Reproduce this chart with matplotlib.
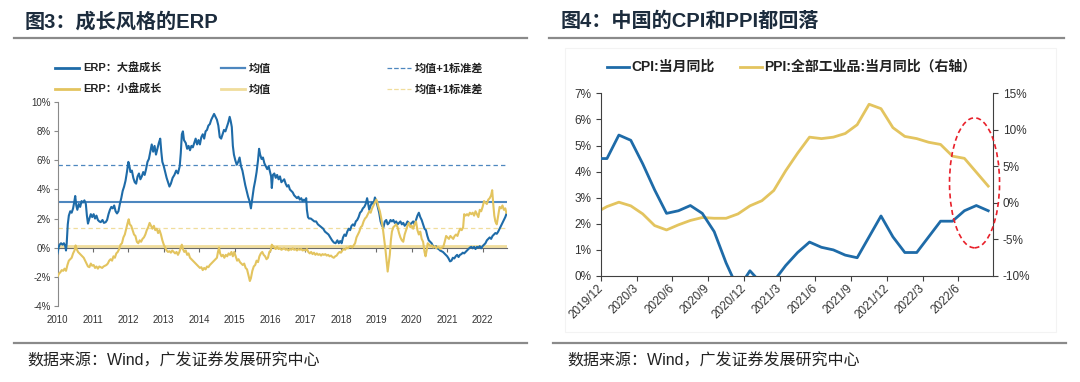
import matplotlib
matplotlib.use('Agg')
import matplotlib.pyplot as plt
from matplotlib.lines import Line2D
from matplotlib.patches import Ellipse, Rectangle
from matplotlib.ticker import FuncFormatter

plt.rcParams['font.family'] = ['Liberation Sans', 'Noto Sans CJK SC']

# ---------------- data: chart 3 (ERP) ----------------
erp_large_t = [2010.00, 2010.03, 2010.06, 2010.10, 2010.14, 2010.18, 2010.22, 2010.24, 2010.26, 2010.29, 2010.32, 2010.36, 2010.40, 2010.44, 2010.47, 2010.50, 2010.53, 2010.56, 2010.60, 2010.64, 2010.68, 2010.72, 2010.76, 2010.80, 2010.83, 2010.86, 2010.90, 2010.94, 2010.98,
               2011.02, 2011.06, 2011.10, 2011.14, 2011.18, 2011.22, 2011.27, 2011.31, 2011.36, 2011.40, 2011.44, 2011.48, 2011.52, 2011.56, 2011.60, 2011.64, 2011.68, 2011.72, 2011.76, 2011.80, 2011.84, 2011.88, 2011.92, 2011.96,
               2012.00, 2012.03, 2012.06, 2012.10, 2012.14, 2012.18, 2012.22, 2012.26, 2012.30, 2012.34, 2012.38, 2012.42, 2012.46, 2012.50, 2012.54, 2012.58, 2012.62, 2012.66, 2012.70, 2012.74, 2012.78, 2012.82, 2012.86, 2012.90, 2012.93, 2012.96,
               2013.00, 2013.04, 2013.08, 2013.12, 2013.16, 2013.20, 2013.25, 2013.30, 2013.35, 2013.40, 2013.45, 2013.48, 2013.51, 2013.54, 2013.57, 2013.62, 2013.66, 2013.70, 2013.74, 2013.78, 2013.82, 2013.86, 2013.90, 2013.94, 2013.98,
               2014.02, 2014.06, 2014.10, 2014.14, 2014.18, 2014.22, 2014.26, 2014.30, 2014.34, 2014.38, 2014.42, 2014.46, 2014.50, 2014.54, 2014.58, 2014.62, 2014.66, 2014.70, 2014.74, 2014.78, 2014.82, 2014.86, 2014.89, 2014.92, 2014.95, 2014.98,
               2015.02, 2015.06, 2015.10, 2015.14, 2015.18, 2015.22, 2015.26, 2015.30, 2015.34, 2015.38, 2015.42, 2015.46, 2015.50, 2015.54, 2015.58, 2015.62, 2015.66, 2015.69, 2015.72, 2015.76, 2015.80, 2015.84, 2015.88, 2015.92, 2015.96,
               2016.00, 2016.03, 2016.05, 2016.08, 2016.12, 2016.16, 2016.20, 2016.24, 2016.28, 2016.32, 2016.36, 2016.40, 2016.44, 2016.48, 2016.52, 2016.56, 2016.60, 2016.64, 2016.68, 2016.72, 2016.76, 2016.80, 2016.84, 2016.88, 2016.92, 2016.96,
               2017.00, 2017.02, 2017.04, 2017.07, 2017.10, 2017.15, 2017.20, 2017.25, 2017.30, 2017.35, 2017.40, 2017.45, 2017.50, 2017.55, 2017.60, 2017.65, 2017.70, 2017.75, 2017.80, 2017.85, 2017.90, 2017.94, 2017.98,
               2018.02, 2018.06, 2018.10, 2018.14, 2018.18, 2018.22, 2018.26, 2018.30, 2018.34, 2018.38, 2018.42, 2018.46, 2018.50, 2018.54, 2018.58, 2018.62, 2018.66, 2018.70, 2018.74, 2018.77, 2018.80, 2018.84, 2018.88, 2018.92, 2018.96,
               2019.00, 2019.04, 2019.08, 2019.12, 2019.16, 2019.20, 2019.24, 2019.28, 2019.32, 2019.36, 2019.40, 2019.44, 2019.48, 2019.52, 2019.56, 2019.60, 2019.64, 2019.68, 2019.72, 2019.76, 2019.80, 2019.84, 2019.88, 2019.92, 2019.96,
               2020.00, 2020.04, 2020.08, 2020.12, 2020.16, 2020.20, 2020.24, 2020.28, 2020.32, 2020.36, 2020.40, 2020.44, 2020.48, 2020.52, 2020.56, 2020.60, 2020.64, 2020.68, 2020.72, 2020.76, 2020.80, 2020.84, 2020.88, 2020.92, 2020.96,
               2021.00, 2021.04, 2021.08, 2021.12, 2021.16, 2021.20, 2021.24, 2021.28, 2021.32, 2021.36, 2021.40, 2021.44, 2021.48, 2021.52, 2021.56, 2021.60, 2021.64, 2021.68, 2021.72, 2021.76, 2021.80, 2021.84, 2021.88, 2021.92, 2021.96,
               2022.00, 2022.04, 2022.08, 2022.12, 2022.16, 2022.20, 2022.24, 2022.28, 2022.32, 2022.36, 2022.40, 2022.44, 2022.48, 2022.52, 2022.56, 2022.60, 2022.64, 2022.67]
erp_large = [-0.4, 0.0, 0.2, 0.3, 0.2, 0.3, 0.1, -0.2, 0.3, 1.6, 2.2, 2.5, 2.4, 2.7, 3.1, 3.55, 2.9, 2.6, 3.0, 2.8, 3.2, 3.1, 3.25, 3.0, 2.2, 1.65, 2.0, 2.3, 2.1,
             2.3, 2.0, 2.2, 1.9, 1.8, 1.75, 1.9, 1.7, 1.75, 1.9, 2.3, 2.6, 2.8, 2.7, 2.9, 2.5, 2.35, 2.5, 3.0, 3.4, 3.9, 4.2, 4.6, 5.2,
             5.9, 5.6, 5.2, 5.3, 4.8, 4.5, 4.4, 4.9, 5.1, 4.7, 4.9, 5.2, 5.0, 5.4, 5.9, 6.1, 6.6, 7.1, 6.6, 7.0, 6.4, 6.8, 7.2, 7.5, 6.6, 5.9,
             5.6, 5.2, 4.8, 4.5, 4.2, 4.4, 4.8, 5.0, 5.3, 5.1, 5.6, 6.5, 7.8, 8.0, 7.4, 7.2, 6.8, 7.0, 6.7, 7.0, 6.9, 7.2, 7.5, 7.1, 7.4,
             7.1, 7.6, 7.8, 7.5, 8.0, 8.1, 8.4, 8.5, 8.8, 9.0, 9.2, 9.0, 8.8, 8.4, 7.6, 7.5, 7.8, 8.1, 8.0, 8.3, 8.6, 9.0, 8.7, 8.3, 7.0, 6.4,
             6.0, 5.7, 5.9, 6.2, 5.6, 5.3, 4.8, 4.3, 3.9, 3.5, 3.2, 2.7, 3.4, 4.1, 4.6, 5.2, 6.0, 6.8, 6.4, 6.1, 6.2, 5.8, 5.6, 5.4, 5.6,
             5.2, 4.9, 4.1, 5.0, 5.1, 4.8, 5.0, 4.7, 4.9, 4.5, 4.6, 4.7, 4.4, 4.2, 4.3, 4.0, 3.9, 3.8, 3.6, 3.5, 3.4, 3.5, 3.3, 3.4, 3.2, 3.3,
             3.2, 3.4, 2.6, 2.1, 2.0, 2.0, 1.9, 1.8, 1.8, 1.6, 1.5, 1.4, 1.3, 1.1, 1.0, 0.9, 0.7, 0.5, 0.35, 0.3, 0.5, 0.3, 0.45,
             0.3, 0.7, 0.9, 0.8, 1.1, 1.3, 1.2, 1.5, 1.6, 1.5, 1.8, 1.9, 2.1, 2.4, 2.5, 2.7, 2.8, 3.0, 3.4, 3.0, 2.6, 2.9, 3.1, 3.0, 3.45,
             3.2, 2.8, 2.4, 1.8, 1.5, 1.4, 1.8, 1.9, 1.6, 1.7, 1.9, 1.8, 1.9, 1.7, 1.8, 1.6, 1.7, 1.8, 1.6, 1.7, 1.5, 1.6, 1.8, 1.7, 1.6,
             1.7, 1.8, 1.6, 1.9, 2.2, 2.4, 2.1, 1.9, 1.6, 1.3, 1.2, 0.8, 0.5, 0.4, 0.3, 0.1, 0.0, 0.1, -0.05, -0.1, -0.2, -0.25, -0.3, -0.4, -0.5,
             -0.6, -0.75, -0.95, -0.9, -0.7, -0.75, -0.6, -0.5, -0.65, -0.5, -0.45, -0.35, -0.4, -0.3, -0.2, -0.1, 0.0, 0.05, -0.05, 0.05, -0.1, 0.05, 0.0, 0.1, -0.05,
             0.1, 0.2, 0.3, 0.5, 0.6, 0.7, 0.6, 0.8, 0.9, 1.0, 0.95, 1.1, 1.3, 1.5, 1.7, 1.9, 2.1, 2.3]

erp_small_t = [2010.00, 2010.04, 2010.08, 2010.12, 2010.16, 2010.20, 2010.24, 2010.28, 2010.32, 2010.36, 2010.40, 2010.44, 2010.48, 2010.51, 2010.54, 2010.58, 2010.62, 2010.66, 2010.70, 2010.74, 2010.78, 2010.82, 2010.86, 2010.90, 2010.94, 2010.98,
               2011.02, 2011.06, 2011.10, 2011.14, 2011.18, 2011.22, 2011.26, 2011.30, 2011.34, 2011.38, 2011.42, 2011.46, 2011.50, 2011.54, 2011.58, 2011.62, 2011.66, 2011.70, 2011.74, 2011.78, 2011.82, 2011.86, 2011.90, 2011.94, 2011.98,
               2012.01, 2012.04, 2012.08, 2012.12, 2012.16, 2012.20, 2012.24, 2012.28, 2012.32, 2012.36, 2012.40, 2012.44, 2012.48, 2012.52, 2012.56, 2012.60, 2012.64, 2012.68, 2012.72, 2012.76, 2012.80, 2012.84, 2012.88, 2012.92, 2012.96,
               2013.00, 2013.04, 2013.08, 2013.12, 2013.16, 2013.20, 2013.24, 2013.28, 2013.32, 2013.36, 2013.40, 2013.44, 2013.48, 2013.51, 2013.54, 2013.58, 2013.62, 2013.66, 2013.70, 2013.74, 2013.78, 2013.82, 2013.86, 2013.90, 2013.94, 2013.98,
               2014.02, 2014.06, 2014.10, 2014.14, 2014.18, 2014.22, 2014.26, 2014.30, 2014.34, 2014.38, 2014.42, 2014.46, 2014.50, 2014.53, 2014.56, 2014.59, 2014.63, 2014.67, 2014.71, 2014.75, 2014.79, 2014.83, 2014.87, 2014.91, 2014.95, 2014.99,
               2015.03, 2015.07, 2015.11, 2015.15, 2015.19, 2015.23, 2015.27, 2015.31, 2015.35, 2015.39, 2015.43, 2015.46, 2015.50, 2015.54, 2015.58, 2015.62, 2015.66, 2015.70, 2015.74, 2015.78, 2015.82, 2015.86, 2015.90, 2015.94, 2015.98,
               2016.02, 2016.05, 2016.08, 2016.12, 2016.16, 2016.20, 2016.24, 2016.28, 2016.32, 2016.36, 2016.40, 2016.44, 2016.48, 2016.52, 2016.56, 2016.60, 2016.64, 2016.68, 2016.72, 2016.76, 2016.80, 2016.84, 2016.88, 2016.92, 2016.96,
               2017.00, 2017.04, 2017.08, 2017.12, 2017.16, 2017.20, 2017.24, 2017.28, 2017.32, 2017.36, 2017.40, 2017.44, 2017.48, 2017.52, 2017.56, 2017.60, 2017.64, 2017.68, 2017.72, 2017.76, 2017.80, 2017.84, 2017.88, 2017.92, 2017.96,
               2018.00, 2018.04, 2018.08, 2018.12, 2018.16, 2018.20, 2018.24, 2018.28, 2018.32, 2018.36, 2018.40, 2018.44, 2018.48, 2018.52, 2018.56, 2018.60, 2018.64, 2018.68, 2018.72, 2018.76, 2018.80, 2018.84, 2018.88, 2018.92, 2018.96,
               2019.00, 2019.03, 2019.06, 2019.10, 2019.14, 2019.18, 2019.22, 2019.26, 2019.29, 2019.32, 2019.35, 2019.38, 2019.41, 2019.44, 2019.48, 2019.52, 2019.56, 2019.60, 2019.64, 2019.68, 2019.72, 2019.76, 2019.80, 2019.84, 2019.88, 2019.92, 2019.96,
               2020.00, 2020.04, 2020.08, 2020.12, 2020.16, 2020.20, 2020.24, 2020.28, 2020.32, 2020.36, 2020.39, 2020.42, 2020.45, 2020.49, 2020.53, 2020.57, 2020.61, 2020.65, 2020.69, 2020.73, 2020.77, 2020.81, 2020.85, 2020.89, 2020.93, 2020.97,
               2021.01, 2021.05, 2021.09, 2021.13, 2021.17, 2021.21, 2021.25, 2021.29, 2021.33, 2021.37, 2021.41, 2021.45, 2021.48, 2021.52, 2021.56, 2021.60, 2021.64, 2021.68, 2021.72, 2021.76, 2021.80, 2021.84, 2021.88, 2021.92, 2021.96,
               2022.00, 2022.04, 2022.08, 2022.12, 2022.16, 2022.20, 2022.24, 2022.27, 2022.30, 2022.33, 2022.36, 2022.40, 2022.44, 2022.48, 2022.52, 2022.56, 2022.60, 2022.64, 2022.67]
erp_small = [-2.0, -1.8, -1.7, -1.55, -1.6, -1.45, -1.6, -1.2, -0.9, -0.8, -0.7, -0.4, -0.2, 0.15, -0.1, -0.3, -0.4, -0.5, -0.6, -0.7, -0.9, -1.1, -1.3, -1.35, -1.1, -1.25,
             -1.2, -1.4, -1.3, -1.45, -1.3, -1.35, -1.4, -1.3, -1.25, -1.2, -1.1, -0.9, -0.8, -0.9, -0.6, -0.7, -0.4, -0.3, -0.1, 0.2, 0.3, 0.7, 0.9, 1.3, 1.7,
             1.95, 1.6, 1.5, 1.2, 0.9, 0.8, 0.4, 0.3, 0.5, 0.4, 0.6, 0.7, 0.9, 1.2, 1.4, 1.7, 1.5, 1.3, 1.5, 1.2, 1.3, 1.0, 1.2, 0.9, 0.5,
             0.2, 0.0, -0.2, -0.3, -0.25, -0.35, -0.2, -0.3, -0.4, -0.3, -0.5, -0.3, 0.0, 0.2, -0.1, -0.3, -0.2, -0.5, -0.4, -0.7, -0.8, -0.9, -1.0, -1.1, -1.2, -1.3,
             -1.4, -1.35, -1.55, -1.4, -1.5, -1.3, -1.35, -1.2, -1.1, -1.0, -0.9, -0.8, -0.7, -0.3, 0.0, -0.4, -0.6, -0.5, -0.7, -0.5, -0.6, -0.4, -0.5, -0.3, -0.6, -0.3,
             -0.6, -0.9, -0.8, -1.0, -1.1, -1.2, -1.1, -1.4, -1.5, -1.9, -2.3, -2.1, -1.6, -1.3, -1.2, -0.9, -1.0, -0.6, -0.4, -0.3, -0.5, -0.6, -0.8, -0.7, -0.3,
             -0.2, 0.2, 0.1, 0.0, -0.1, 0.05, -0.1, -0.05, -0.15, -0.1, -0.05, -0.15, -0.1, -0.2, -0.1, -0.15, -0.05, -0.15, -0.1, -0.2, -0.1, -0.15, -0.1, -0.2, -0.15,
             -0.2, -0.1, -0.3, -0.4, -0.3, -0.45, -0.35, -0.5, -0.4, -0.5, -0.45, -0.55, -0.45, -0.5, -0.45, -0.55, -0.5, -0.6, -0.55, -0.65, -0.7, -0.6, -0.55, -0.4, -0.3,
             -0.35, -0.2, -0.1, -0.15, 0.0, -0.05, 0.05, 0.1, 0.0, 0.15, 0.3, 0.7, 0.9, 1.1, 1.4, 1.5, 1.8, 2.0, 2.1, 2.3, 2.5, 2.4, 2.7, 2.9, 3.1,
             3.3, 3.1, 2.8, 2.5, 2.0, 1.4, 0.6, -0.2, -0.9, -1.65, -1.1, -0.5, 0.5, 1.1, 1.4, 1.5, 1.6, 1.4, 1.0, 0.7, 0.5, 0.4, 0.9, 1.2, 1.5, 1.7, 1.4,
             1.5, 1.3, 1.6, 1.8, 1.2, 0.9, 1.1, 0.6, 0.4, -0.3, -0.6, -0.2, 0.3, 0.2, 0.1, 0.15, 0.0, 0.1, -0.05, 0.05, 0.0, -0.1, 0.0, 0.05, 0.4, 0.8,
             0.7, 0.6, 0.8, 0.7, 0.6, 0.8, 0.9, 0.8, 1.1, 1.3, 1.2, 1.4, 2.3, 2.2, 2.3, 2.2, 2.4, 2.3, 2.4, 2.2, 2.5, 2.3, 2.1, 2.6, 2.5,
             2.8, 3.2, 3.1, 3.0, 3.3, 3.4, 3.6, 3.95, 3.0, 2.2, 1.8, 1.6, 2.2, 2.8, 2.7, 2.9, 2.6, 2.7, 2.4]

erp_large_mean = 3.13
erp_large_sd = 2.53
erp_small_mean = 0.12
erp_small_sd = 1.26
erp_year_ticks = list(range(2010, 2023))

# ---------------- data: chart 4 (CPI / PPI) ----------------
months = ['2019/11', '2019/12', '2020/1', '2020/2', '2020/3', '2020/4', '2020/5', '2020/6', '2020/7', '2020/8',
          '2020/9', '2020/10', '2020/11', '2020/12', '2021/1', '2021/2', '2021/3', '2021/4', '2021/5', '2021/6',
          '2021/7', '2021/8', '2021/9', '2021/10', '2021/11', '2021/12', '2022/1', '2022/2', '2022/3', '2022/4',
          '2022/5', '2022/6', '2022/7', '2022/8']
cpi = [4.5, 4.5, 5.4, 5.2, 4.3, 3.3, 2.4, 2.5, 2.7, 2.4,
       1.7, 0.5, -0.5, 0.2, -0.3, -0.2, 0.4, 0.9, 1.3, 1.1,
       1.0, 0.8, 0.7, 1.5, 2.3, 1.5, 0.9, 0.9, 1.5, 2.1,
       2.1, 2.5, 2.7, 2.5]
ppi = [-1.4, -0.5, 0.1, -0.4, -1.5, -3.1, -3.7, -3.0, -2.4, -2.0,
       -2.1, -2.1, -1.5, -0.4, 0.3, 1.7, 4.4, 6.8, 9.0, 8.8,
       9.0, 9.5, 10.7, 13.5, 12.9, 10.3, 9.1, 8.8, 8.3, 8.0,
       6.4, 6.1, 4.2, 2.3]
cpi_tick_labels = ['2019/12', '2020/3', '2020/6', '2020/9', '2020/12', '2021/3',
                   '2021/6', '2021/9', '2021/12', '2022/3', '2022/6']

# ---------------- styling ----------------
BLUE = '#1E6BA8'
BLUE_MEAN = '#4D87BF'
YEL = '#E3C45F'
YEL_MEAN = '#F0DD9C'
TITLE_C = '#1C2C3D'
RULE_C = '#8A8A8A'
TXT = '#333333'

W, H = 1080, 382
fig = plt.figure(figsize=(W / 100, H / 100), dpi=100)


def fx(p):
    return p / W


def fy(p):
    return 1 - p / H


def pct(v, pos):
    return '%d%%' % v


# titles and rules
fig.text(fx(25), fy(21.5), '图3：成长风格的ERP', fontsize=14.5, fontweight='bold', color=TITLE_C, va='center')
fig.text(fx(561), fy(21.5), '图4：中国的CPI和PPI都回落', fontsize=14.5, fontweight='bold', color=TITLE_C, va='center')
for x0, x1, y in [(14, 527, 37.5), (549, 1064, 37.5), (14, 527, 343), (553, 1066, 343)]:
    fig.add_artist(Line2D([fx(x0), fx(x1)], [fy(y), fy(y)], color=RULE_C, lw=1.6, transform=fig.transFigure))
fig.text(fx(27), fy(361), '数据来源：Wind，广发证券发展研究中心', fontsize=11.5, color='#222222', va='center')
fig.text(fx(567), fy(361), '数据来源：Wind，广发证券发展研究中心', fontsize=11.5, color='#222222', va='center')

# ---------------- chart 3 ----------------
ax1 = fig.add_axes([fx(57.5), fy(305.7), (506.7 - 57.5) / W, (305.7 - 102.3) / H])
ax1.axhline(erp_large_mean, color=BLUE_MEAN, lw=1.5, zorder=1)
ax1.axhline(erp_large_mean + erp_large_sd, color=BLUE_MEAN, lw=0.9, ls=(0, (3.5, 2.5)), zorder=1)
ax1.axhline(erp_small_mean, color=YEL_MEAN, lw=2.0, zorder=1)
ax1.axhline(erp_small_mean + erp_small_sd, color=YEL_MEAN, lw=0.9, ls=(0, (3.5, 2.5)), zorder=1)
ax1.plot(erp_large_t, erp_large, color=BLUE, lw=1.5, zorder=3)
ax1.plot(erp_small_t, erp_small, color=YEL, lw=1.5, zorder=3)
ax1.set_xlim(2010, 2022.68)
ax1.set_ylim(-4, 10)
ax1.set_yticks(range(-4, 11, 2))
ax1.yaxis.set_major_formatter(FuncFormatter(pct))
for s in ['top', 'right']:
    ax1.spines[s].set_visible(False)
ax1.spines['left'].set_color('#8A8A8A')
ax1.spines['bottom'].set_position(('data', 0))
ax1.spines['bottom'].set_color('#6A6A6A')
ax1.spines['bottom'].set_zorder(2)
ax1.set_xticks(erp_year_ticks)
ax1.tick_params(axis='x', direction='out', length=3, color='#6A6A6A', labelbottom=False)
ax1.tick_params(axis='y', direction='out', length=3, color='#8A8A8A', labelsize=7, labelcolor=TXT, pad=2)
sec = ax1.secondary_xaxis('bottom')
sec.set_xticks(erp_year_ticks)
sec.set_xticklabels([str(y) for y in erp_year_ticks])
sec.spines['bottom'].set_visible(False)
sec.tick_params(length=0, labelsize=7, labelcolor=TXT, pad=7)

# legend chart 3 (manual layout)
leg3 = [
    (55, 68.3, '-', BLUE, 2.0, 'ERP：大盘成长'),
    (55, 89.3, '-', YEL, 2.0, 'ERP：小盘成长'),
    (221, 68.3, '-', BLUE_MEAN, 1.6, '均值'),
    (221, 89.3, '-', YEL_MEAN, 2.0, '均值'),
    (387, 68.3, '--', BLUE_MEAN, 0.9, '均值+1标准差'),
    (387, 89.3, '--', YEL_MEAN, 0.9, '均值+1标准差'),
]
for x, y, ls, c, lw, lab in leg3:
    fig.add_artist(Line2D([fx(x), fx(x + 24)], [fy(y), fy(y)], color=c, lw=lw, ls=ls,
                          transform=fig.transFigure))
    fig.text(fx(x + 28), fy(y), lab, fontsize=8, color='#222222', va='center', fontweight='bold')

# ---------------- chart 4 ----------------
fig.add_artist(Rectangle((fx(565), fy(332)), fx(1056) - fx(565), (332 - 48) / H, transform=fig.transFigure,
                         fill=False, edgecolor='#F3F3F3', lw=0.8))
idx = list(range(len(months)))
ax2 = fig.add_axes([fx(601), fy(276), (993 - 601) / W, (276 - 93.3) / H])
ax2.plot(idx, cpi, color=BLUE, lw=2.0, zorder=3)
ax2.set_xlim(0.5, 33.4)
ax2.set_ylim(0, 7)
ax2.set_yticks(range(0, 8))
ax2.yaxis.set_major_formatter(FuncFormatter(pct))
tick_pos = [months.index(m) - 0.5 for m in cpi_tick_labels]
ax2.set_xticks(tick_pos)
ax2.set_xticklabels(cpi_tick_labels, rotation=45, ha='right', va='center', rotation_mode='anchor')
for s in ['top', 'right']:
    ax2.spines[s].set_visible(False)
for s in ['left', 'bottom']:
    ax2.spines[s].set_color('#404040')
ax2.tick_params(axis='both', direction='out', length=3.5, color='#404040', labelsize=8.5, labelcolor=TXT)
ax2.tick_params(axis='x', pad=4)

ax3 = ax2.twinx()
ax3.plot(idx, ppi, color=YEL, lw=2.0, zorder=2)
ax3.set_ylim(-10, 15)
ax3.set_yticks(range(-10, 16, 5))
ax3.yaxis.set_major_formatter(FuncFormatter(pct))
for s in ['top', 'left', 'bottom']:
    ax3.spines[s].set_visible(False)
ax3.spines['right'].set_color('#404040')
ax3.tick_params(axis='y', direction='out', length=3.5, color='#404040', labelsize=8.5, labelcolor=TXT)
ax2.set_zorder(ax3.get_zorder() + 1)
ax2.patch.set_visible(False)

ell = Ellipse((31.85, 3.57), 4.2, 4.98, fill=False, edgecolor='#E8202A', lw=1.2,
              ls=(0, (3, 2)), clip_on=False, zorder=5)
ax2.add_patch(ell)

# legend chart 4
for x, c, lab in [(607, BLUE, 'CPI:当月同比'), (740, YEL, 'PPI:全部工业品:当月同比（右轴）')]:
    fig.add_artist(Line2D([fx(x), fx(x + 22)], [fy(66.7), fy(66.7)], color=c, lw=2.0,
                          transform=fig.transFigure))
    fig.text(fx(x + 24), fy(66.7), lab, fontsize=10, color='#222222', va='center', fontweight='bold')

fig.savefig('out.png', dpi=100)
